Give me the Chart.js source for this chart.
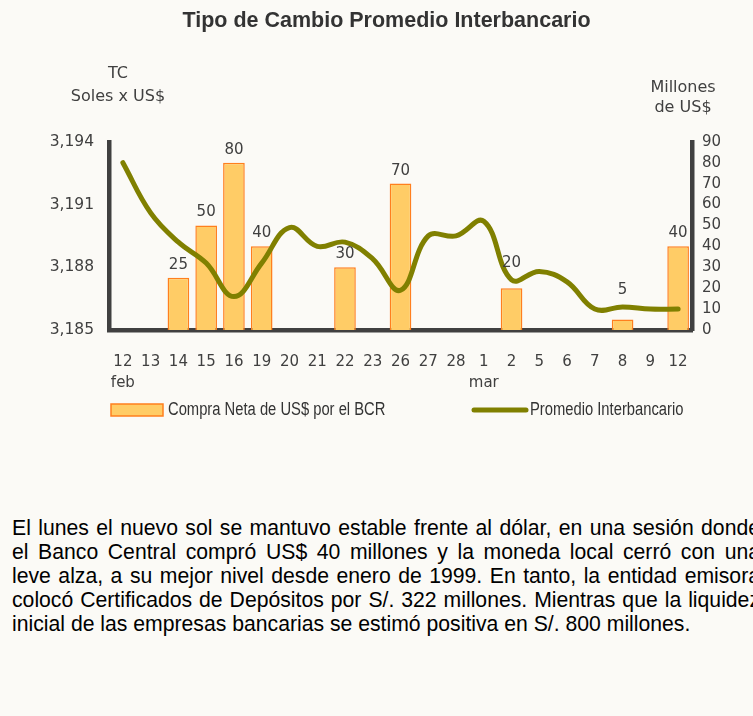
<!DOCTYPE html>
<html>
<head>
<meta charset="utf-8">
<script src="https://cdn.jsdelivr.net/npm/chart.js@4"></script>
<style>
  html, body { margin: 0; padding: 0; background: #fbfaf6; overflow: hidden; }
  body { width: 753px; height: 716px; position: relative; }
  #wrap { position: absolute; left: 0; top: 0; width: 753px; height: 440px; }
  #nota { position: absolute; left: 12px; top: 516px; width: 748px;
          font-family: 'Liberation Sans', Arial, sans-serif; font-size: 21.2px;
          line-height: 24px; color: #000; white-space: nowrap; }
  #nota div { text-align: justify; text-align-last: justify; white-space: normal; }
  #nota div.fin { text-align-last: left; }
</style>
</head>
<body>
<div id="wrap"><canvas id="tcChart"></canvas></div>
<div id="nota">
  <div>El lunes el nuevo sol se mantuvo estable frente al dólar, en una sesión donde</div>
  <div>el Banco Central compró US$ 40 millones y la moneda local cerró con una</div>
  <div>leve alza, a su mejor nivel desde enero de 1999. En tanto, la entidad emisora</div>
  <div>colocó Certificados de Depósitos por S/. 322 millones. Mientras que la liquidez</div>
  <div class="fin">inicial de las empresas bancarias se estimó positiva en S/. 800 millones.</div>
</div>
<script>
// dias (feb - mar)
const dias = [['12', 'feb'], '13', '14', '15', '16', '19', '20', '21', '22', '23', '26', '27', '28',
  ['1', 'mar'], '2', '5', '6', '7', '8', '9', '12'];

// compra neta BCR (millones US$)
const compraNeta = [null, null, 25, 50, 80, 40, null, null, 30, null, 70, null, null,
  null, 20, null, null, null, 5, null, 40];

// tipo de cambio promedio interbancario
const promedio = [3193.0, 3190.6, 3189.2, 3188.2, 3186.6, 3188.2, 3189.9, 3189.0, 3189.2, 3188.4,
  3186.9, 3189.5, 3189.5, 3190.2, 3187.4, 3187.8, 3187.3, 3186.0, 3186.1, 3186.0, 3186.0];

const tituloIzq = ['TC', 'Soles x US$'];
const tituloDer = ['Millones', 'de US$'];

const OLIVA = '#808000';
const BARRA = '#ffcc66';
const BORDE = '#ff7f1e';
const EJE = '#404040';

Chart.defaults.font.family = "'DejaVu Sans', sans-serif";
Chart.defaults.color = EJE;

// texto angosto (estilo Arial Narrow)
function textoAngosto(ctx, txt, x, y) {
  ctx.save();
  ctx.translate(x, y);
  ctx.scale(0.82, 1);
  ctx.fillText(txt, 0, 0);
  ctx.restore();
}

const decor = {
  id: 'decor',
  afterDatasetsDraw(chart) {
    const { ctx, chartArea: a } = chart;
    const yTc = chart.scales.y;
    ctx.save();
    // etiquetas de barras (se suben sobre la linea si la tapan)
    const meta = chart.getDatasetMeta(1);
    ctx.font = "15px 'DejaVu Sans'";
    ctx.fillStyle = EJE;
    ctx.textAlign = 'center';
    ctx.textBaseline = 'middle';
    meta.data.forEach((bar, i) => {
      const v = compraNeta[i];
      if (v == null) return;
      let cy = bar.y - 13;
      const ly = yTc.getPixelForValue(promedio[i]);
      if (ly > cy - 8 && ly < cy + 14) cy = ly - 17;
      ctx.fillText(String(v), bar.x, cy);
    });
    // titulos de ejes
    ctx.font = "16px 'DejaVu Sans'";
    ctx.fillText(tituloIzq[0], a.left + 9, a.top - 68);
    ctx.fillText(tituloIzq[1], a.left + 9, a.top - 45);
    ctx.fillText(tituloDer[0], a.right - 9, a.top - 54);
    ctx.fillText(tituloDer[1], a.right - 9, a.top - 34);
    // leyenda
    const ly = a.bottom + 80;
    ctx.fillStyle = BARRA;
    ctx.strokeStyle = BORDE;
    ctx.lineWidth = 1.5;
    ctx.fillRect(111, ly - 6, 52, 12);
    ctx.strokeRect(111, ly - 6, 52, 12);
    ctx.strokeStyle = OLIVA;
    ctx.lineWidth = 5;
    ctx.lineCap = 'round';
    ctx.beginPath();
    ctx.moveTo(474, ly);
    ctx.lineTo(526, ly);
    ctx.stroke();
    ctx.fillStyle = '#333';
    ctx.textAlign = 'left';
    ctx.font = "18px 'Liberation Sans', Arial, sans-serif";
    textoAngosto(ctx, chart.data.datasets[1].label, 168, ly);
    textoAngosto(ctx, chart.data.datasets[0].label, 530, ly);
    ctx.restore();
  }
};

new Chart(document.getElementById('tcChart'), {
  type: 'bar',
  data: {
    labels: dias,
    datasets: [
      {
        type: 'line', label: 'Promedio Interbancario', data: promedio, yAxisID: 'y',
        borderColor: OLIVA, borderWidth: 5, tension: 0.4, pointRadius: 0,
        borderCapStyle: 'round', order: 0
      },
      {
        type: 'bar', label: 'Compra Neta de US$ por el BCR', data: compraNeta, yAxisID: 'y1',
        backgroundColor: BARRA, borderColor: BORDE, borderWidth: 1.5,
        barPercentage: 0.78, categoryPercentage: 1, order: 1
      }
    ]
  },
  options: {
    responsive: true,
    maintainAspectRatio: false,
    animation: false,
    layout: { padding: { left: 20, right: 0, top: 0, bottom: 0 } },
    plugins: {
      legend: { display: false },
      tooltip: { enabled: false },
      title: {
        display: true,
        text: 'Tipo de Cambio Promedio Interbancario',
        color: '#333',
        font: { family: "'Liberation Sans', Arial, sans-serif", size: 21.5, weight: 'bold' },
        padding: { top: 8, bottom: 108 }
      }
    },
    scales: {
      x: {
        offset: true,
        grid: { display: false },
        border: { display: true, color: EJE, width: 4.5 },
        ticks: { font: { size: 15, lineHeight: 1.4 }, padding: 14, maxRotation: 0, autoSkip: false },
        afterFit: s => { s.height = 110; }
      },
      y: {
        position: 'left',
        min: 3185, max: 3194,
        grid: { display: false },
        border: { display: true, color: EJE, width: 4.5 },
        ticks: { stepSize: 3, font: { size: 15.5 }, padding: 7, autoSkip: false,
                 callback: v => v.toLocaleString('en-US') },
        afterFit: s => { s.width = 89; }
      },
      y1: {
        position: 'right',
        min: 0, max: 90,
        grid: { display: false },
        border: { display: true, color: EJE, width: 4.5 },
        ticks: { stepSize: 10, font: { size: 15 }, padding: 2, autoSkip: false },
        afterFit: s => { s.width = 61; }
      }
    }
  },
  plugins: [decor]
});
</script>
</body>
</html>
